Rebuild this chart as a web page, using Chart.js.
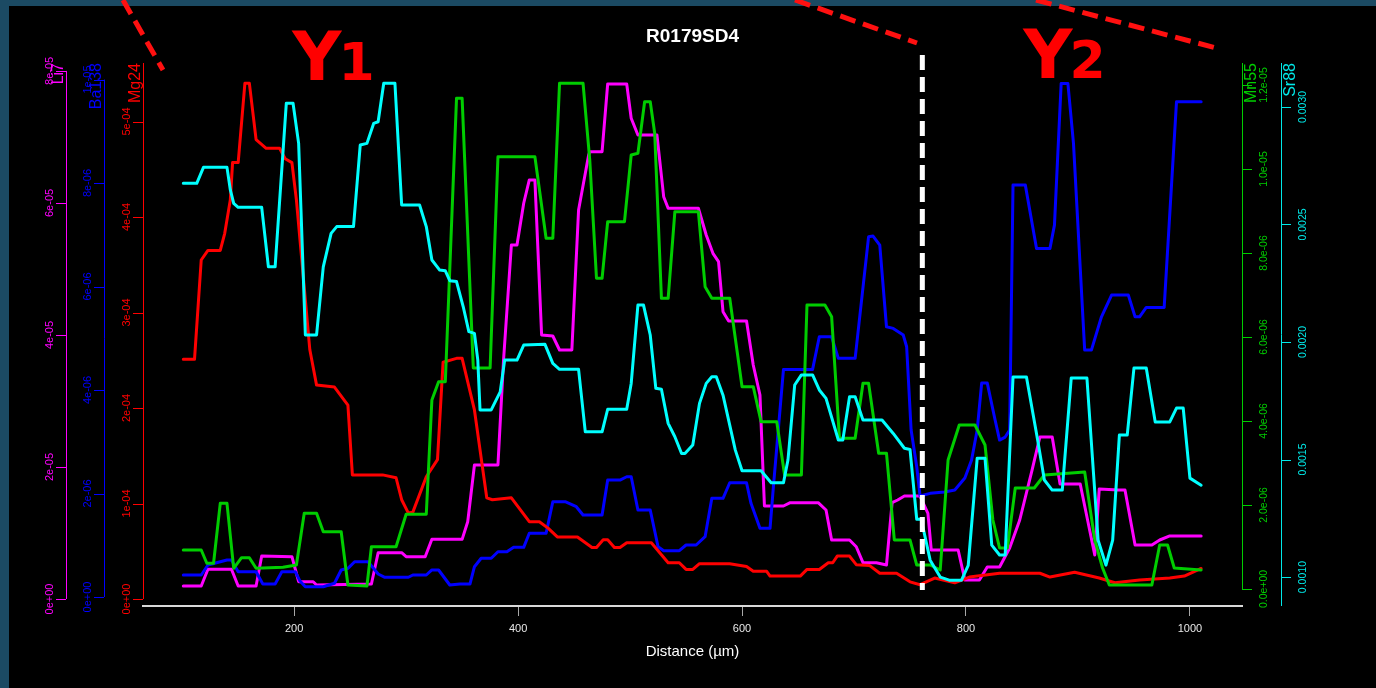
<!DOCTYPE html>
<html>
<head>
<meta charset="utf-8">
<title>R0179SD4</title>
<script src="https://cdn.jsdelivr.net/npm/chart.js@4"></script>
<style>
  html, body { margin: 0; padding: 0; background: #1b4a63; }
  canvas { display: block; }
</style>
</head>
<body>
<canvas id="chart" width="1376" height="688"></canvas>
<script>
// distance (µm) and concentration for each element
const mgX = [101, 111, 117, 123, 134, 138, 143, 145, 150, 156,
  160, 166, 175, 187, 192, 198, 202, 214, 220, 236,
  248, 252, 279, 291, 296, 302, 306, 318, 328, 333,
  345, 350, 361, 372, 377, 394, 410, 419, 427, 435,
  453, 466, 470, 476, 480, 486, 491, 497, 519, 534,
  544, 550, 556, 562, 589, 604, 610, 622, 625, 652,
  658, 669, 677, 681, 685, 696, 702, 714, 723, 738,
  750, 759, 772, 790, 803, 830, 866, 875, 897, 919,
  933, 955, 982, 995, 1010];
const mgY = [2.51e-4, 2.51e-4, 3.55e-4, 3.65e-4, 3.65e-4, 3.83e-4, 4.18e-4, 4.57e-4, 4.57e-4, 5.40e-4,
  5.40e-4, 4.81e-4, 4.72e-4, 4.72e-4, 4.61e-4, 4.57e-4, 4.18e-4, 2.61e-4, 2.24e-4, 2.22e-4,
  2.03e-4, 1.30e-4, 1.30e-4, 1.27e-4, 1.04e-4, 0.90e-4, 0.91e-4, 1.28e-4, 1.46e-4, 2.48e-4,
  2.52e-4, 2.52e-4, 1.98e-4, 1.06e-4, 1.04e-4, 1.06e-4, 0.81e-4, 0.81e-4, 0.74e-4, 0.65e-4,
  0.65e-4, 0.54e-4, 0.54e-4, 0.62e-4, 0.62e-4, 0.54e-4, 0.54e-4, 0.59e-4, 0.59e-4, 0.38e-4,
  0.38e-4, 0.31e-4, 0.31e-4, 0.37e-4, 0.37e-4, 0.34e-4, 0.29e-4, 0.29e-4, 0.24e-4, 0.24e-4,
  0.31e-4, 0.31e-4, 0.38e-4, 0.38e-4, 0.45e-4, 0.45e-4, 0.36e-4, 0.35e-4, 0.27e-4, 0.27e-4,
  0.18e-4, 0.15e-4, 0.22e-4, 0.17e-4, 0.23e-4, 0.27e-4, 0.27e-4, 0.23e-4, 0.28e-4, 0.22e-4,
  0.17e-4, 0.20e-4, 0.22e-4, 0.24e-4, 0.32e-4];

const srX = [101, 113, 119, 140, 143, 146, 150, 171, 177, 183,
  193, 199, 204, 210, 220, 226, 233, 238, 253, 259,
  265, 271, 275, 280, 290, 296, 312, 318, 323, 330,
  335, 339, 345, 351, 356, 361, 364, 366, 376, 384,
  388, 399, 405, 424, 431, 437, 454, 460, 475, 480,
  497, 501, 507, 512, 518, 523, 528, 534, 540, 546,
  549, 556, 562, 568, 573, 577, 583, 594, 600, 617,
  626, 637, 641, 647, 653, 663, 669, 675, 686, 690,
  696, 701, 708, 725, 735, 745, 750, 756, 760, 768,
  777, 785, 796, 802, 810, 817, 823, 830, 835, 842,
  854, 864, 870, 877, 886, 894, 908, 918, 925, 931,
  937, 944, 950, 961, 969, 982, 988, 994, 1000, 1010];
const srY = [0.002675, 0.002675, 0.002743, 0.002743, 0.002647, 0.002590, 0.002573, 0.002573, 0.002320, 0.002320,
  0.003016, 0.003016, 0.002845, 0.002030, 0.002030, 0.002320, 0.002462, 0.002491, 0.002491, 0.002838,
  0.002845, 0.002930, 0.002937, 0.003101, 0.003101, 0.002583, 0.002583, 0.002491, 0.002349, 0.002306,
  0.002303, 0.002261, 0.002257, 0.002150, 0.002044, 0.002037, 0.001923, 0.001711, 0.001711, 0.001788,
  0.001923, 0.001923, 0.001987, 0.001990, 0.001909, 0.001884, 0.001884, 0.001618, 0.001618, 0.001714,
  0.001714, 0.001824, 0.002157, 0.002157, 0.002030, 0.001803, 0.001799, 0.001654, 0.001597, 0.001526,
  0.001526, 0.001562, 0.001739, 0.001824, 0.001852, 0.001852, 0.001774, 0.001540, 0.001452, 0.001452,
  0.001401, 0.001401, 0.001498, 0.001817, 0.001860, 0.001860, 0.001796, 0.001760, 0.001583, 0.001583,
  0.001767, 0.001767, 0.001668, 0.001668, 0.001611, 0.001548, 0.001543, 0.001246, 0.001246, 0.001072,
  0.001000, 0.000987, 0.000987, 0.001050, 0.001506, 0.001506, 0.001136, 0.001094, 0.001094, 0.001851,
  0.001851, 0.001583, 0.001413, 0.001370, 0.001370, 0.001847, 0.001847, 0.001157, 0.001051, 0.001157,
  0.001604, 0.001604, 0.001889, 0.001889, 0.001660, 0.001660, 0.001719, 0.001719, 0.001421, 0.001391];

const baX = [101, 117, 123, 140, 144, 150, 166, 172, 183, 189,
  201, 205, 210, 226, 236, 242, 248, 254, 266, 275,
  281, 302, 306, 318, 323, 329, 339, 348, 357, 361,
  367, 376, 382, 390, 396, 405, 410, 425, 431, 442,
  452, 458, 475, 480, 491, 497, 501, 507, 518, 525,
  530, 544, 550, 559, 567, 573, 583, 589, 604, 608,
  616, 625, 628, 637, 663, 669, 680, 686, 701, 713,
  717, 723, 729, 735, 744, 747, 751, 756, 759, 768,
  781, 790, 799, 805, 810, 814, 819, 826, 830, 835,
  839, 842, 853, 863, 875, 879, 885, 891, 896, 906,
  912, 921, 930, 945, 951, 955, 961, 977, 988, 1010];
const baY = [4.25e-7, 4.25e-7, 6.18e-7, 7.15e-7, 7.15e-7, 4.89e-7, 4.89e-7, 2.51e-7, 2.51e-7, 4.89e-7,
  4.89e-7, 3.15e-7, 1.99e-7, 1.99e-7, 2.65e-7, 5.22e-7, 5.54e-7, 6.82e-7, 6.82e-7, 4.44e-7,
  3.81e-7, 3.81e-7, 4.25e-7, 4.25e-7, 5.22e-7, 5.22e-7, 2.32e-7, 2.51e-7, 2.51e-7, 5.85e-7,
  7.48e-7, 7.48e-7, 8.75e-7, 8.75e-7, 9.60e-7, 9.60e-7, 1.231e-6, 1.231e-6, 1.841e-6, 1.841e-6,
  1.745e-6, 1.584e-6, 1.584e-6, 2.260e-6, 2.260e-6, 2.324e-6, 2.324e-6, 1.681e-6, 1.681e-6, 9.72e-7,
  8.95e-7, 8.95e-7, 1.005e-6, 1.005e-6, 1.165e-6, 1.907e-6, 1.907e-6, 2.208e-6, 2.208e-6, 1.810e-6,
  1.327e-6, 1.327e-6, 2.131e-6, 4.399e-6, 4.399e-6, 5.029e-6, 5.029e-6, 4.612e-6, 4.612e-6, 6.961e-6,
  6.975e-6, 6.801e-6, 5.222e-6, 5.191e-6, 5.062e-6, 4.836e-6, 3.226e-6, 2.517e-6, 1.951e-6, 2.003e-6,
  2.029e-6, 2.067e-6, 2.299e-6, 2.647e-6, 3.226e-6, 4.134e-6, 4.134e-6, 3.420e-6, 3.033e-6, 3.091e-6,
  3.226e-6, 7.960e-6, 7.960e-6, 6.737e-6, 6.737e-6, 7.187e-6, 9.925e-6, 9.925e-6, 8.766e-6, 4.772e-6,
  4.772e-6, 5.415e-6, 5.835e-6, 5.835e-6, 5.415e-6, 5.415e-6, 5.597e-6, 5.597e-6, 9.569e-6, 9.569e-6];

const mnX = [101, 117, 122, 128, 134, 140, 146, 153, 160, 166,
  190, 202, 209, 220, 226, 242, 248, 265, 269, 291,
  300, 318, 323, 329, 335, 345, 350, 360, 375, 382,
  415, 425, 431, 437, 458, 464, 470, 475, 480, 495,
  501, 507, 513, 518, 522, 528, 534, 540, 561, 567,
  573, 589, 600, 610, 617, 631, 638, 653, 658, 674,
  680, 687, 701, 708, 713, 722, 729, 736, 750, 756,
  768, 777, 784, 794, 808, 817, 824, 830, 837, 844,
  861, 870, 906, 915, 922, 928, 966, 973, 980, 986,
  1010];
const mnY = [9.29e-7, 9.29e-7, 6.12e-7, 6.12e-7, 2.040e-6, 2.040e-6, 4.93e-7, 7.45e-7, 7.45e-7, 4.93e-7,
  5.17e-7, 5.71e-7, 1.802e-6, 1.802e-6, 1.364e-6, 1.364e-6, 9.5e-8, 7.1e-8, 1.007e-6, 1.007e-6,
  1.779e-6, 1.779e-6, 4.500e-6, 4.936e-6, 4.936e-6, 1.1683e-5, 1.1683e-5, 5.262e-6, 5.262e-6, 1.0293e-5,
  1.0293e-5, 8.350e-6, 8.350e-6, 1.2040e-5, 1.2040e-5, 1.0214e-5, 7.398e-6, 7.398e-6, 8.745e-6, 8.745e-6,
  1.0333e-5, 1.0374e-5, 1.1602e-5, 1.1602e-5, 1.0850e-5, 6.921e-6, 6.921e-6, 8.984e-6, 8.984e-6, 7.198e-6,
  6.921e-6, 6.921e-6, 4.817e-6, 4.817e-6, 3.983e-6, 3.983e-6, 2.714e-6, 2.714e-6, 6.762e-6, 6.762e-6,
  6.483e-6, 3.588e-6, 3.588e-6, 4.898e-6, 4.898e-6, 3.231e-6, 3.231e-6, 1.167e-6, 1.167e-6, 5.71e-7,
  5.71e-7, 4.52e-7, 3.071e-6, 3.905e-6, 3.905e-6, 3.429e-6, 1.643e-6, 9.76e-7, 9.76e-7, 2.405e-6,
  2.405e-6, 2.714e-6, 2.786e-6, 1.167e-6, 5.0e-7, 9.5e-8, 9.5e-8, 1.048e-6, 1.048e-6, 5.0e-7,
  4.52e-7];

const liX = [101, 117, 123, 144, 150, 166, 171, 198, 204, 217,
  220, 269, 275, 296, 300, 317, 323, 350, 355, 361,
  382, 387, 394, 399, 405, 410, 415, 421, 431, 437,
  448, 454, 463, 464, 475, 480, 497, 501, 507, 524,
  530, 534, 561, 568, 574, 579, 583, 588, 604, 610,
  616, 620, 637, 643, 668, 675, 680, 696, 702, 708,
  720, 729, 734, 739, 745, 759, 766, 769, 793, 799,
  812, 819, 830, 839, 848, 859, 866, 877, 884, 902,
  915, 919, 936, 942, 951, 966, 973, 982, 1010];
const liY = [1.97e-6, 1.97e-6, 4.50e-6, 4.50e-6, 1.97e-6, 1.97e-6, 6.52e-6, 6.41e-6, 2.62e-6, 2.62e-6,
  2.12e-6, 2.27e-6, 7.01e-6, 7.01e-6, 6.41e-6, 6.41e-6, 9.04e-6, 9.04e-6, 1.171e-5, 2.030e-5,
  2.030e-5, 3.621e-5, 5.363e-5, 5.363e-5, 5.995e-5, 6.348e-5, 6.348e-5, 4.000e-5, 3.984e-5, 3.772e-5,
  3.772e-5, 5.893e-5, 6.727e-5, 6.777e-5, 6.777e-5, 7.802e-5, 7.802e-5, 7.283e-5, 7.030e-5, 7.030e-5,
  6.095e-5, 5.919e-5, 5.919e-5, 5.515e-5, 5.237e-5, 5.110e-5, 4.353e-5, 4.212e-5, 4.212e-5, 3.545e-5,
  3.091e-5, 1.409e-5, 1.409e-5, 1.459e-5, 1.459e-5, 1.348e-5, 8.94e-6, 8.94e-6, 7.92e-6, 5.50e-6,
  5.50e-6, 5.15e-6, 1.459e-5, 1.500e-5, 1.560e-5, 1.560e-5, 1.298e-5, 7.42e-6, 7.42e-6, 2.88e-6,
  2.88e-6, 4.85e-6, 4.85e-6, 7.73e-6, 1.197e-5, 1.954e-5, 2.454e-5, 2.454e-5, 1.742e-5, 1.742e-5,
  6.67e-6, 1.667e-5, 1.651e-5, 1.651e-5, 8.18e-6, 8.18e-6, 8.94e-6, 9.55e-6, 9.55e-6];

// tick labels
const distanceTicks = [200, 400, 600, 800, 1000];
const liTicks = [0, 2e-5, 4e-5, 6e-5, 8e-5];
const baTicks = [0, 2e-6, 4e-6, 6e-6, 8e-6, 1e-5];
const mgTicks = [0, 1e-4, 2e-4, 3e-4, 4e-4, 5e-4];
const mnTicks = [0, 2e-6, 4e-6, 6e-6, 8e-6, 1e-5, 1.2e-5];
const srTicks = [0.001, 0.0015, 0.002, 0.0025, 0.003];

const sampleTitle = "R0179SD4";
const boundaryX = 761;

const FONT = "'Liberation Sans', Arial, sans-serif";

// R style exponent labels: 2e-05, 1.0e-05
const rExp = (v, d) => {
  const [m, e] = v.toExponential(d).split("e");
  const n = parseInt(e, 10);
  return m + "e" + (n < 0 ? "-" : "+") + String(Math.abs(n)).padStart(2, "0");
};

const toPoints = (xs, ys) => xs.map((x, i) => ({ x, y: ys[i] }));

const axisSpecs = [
  { id: "yLi", side: "left", shift: -77, ticks: liTicks, fmt: (v) => rExp(v, 0), title: "Li7", color: "#ff00ff", toTop: false, toBottom: false },
  { id: "yBa", side: "left", shift: -39, ticks: baTicks, fmt: (v) => rExp(v, 0), title: "Ba138", color: "#0000ff", toTop: false, toBottom: false },
  { id: "yMg", side: "left", shift: 0, ticks: mgTicks, fmt: (v) => rExp(v, 0), title: "Mg24", color: "#ff0000", toTop: true, toBottom: false },
  { id: "yMn", side: "right", shift: 0, ticks: mnTicks, fmt: (v) => rExp(v, 1), title: "Mn55", color: "#00cd00", toTop: true, toBottom: false },
  { id: "ySr", side: "right", shift: 39, ticks: srTicks, fmt: (v) => v.toFixed(4), title: "Sr88", color: "#00e8e8", toTop: true, toBottom: true },
];

const rotText = (ctx, text, x, y, align) => {
  ctx.save();
  ctx.translate(x, y);
  ctx.rotate(-Math.PI / 2);
  ctx.textAlign = align;
  ctx.textBaseline = "middle";
  ctx.fillText(text, 0, 0);
  ctx.restore();
};

const framePlugin = {
  id: "frame",
  beforeDraw(chart) {
    const { ctx, width, height } = chart;
    ctx.save();
    ctx.fillStyle = "#1b4a63";
    ctx.fillRect(0, 0, width, height);
    ctx.fillStyle = "#000000";
    ctx.fillRect(9, 6, width - 9, height - 6);
    ctx.restore();
  },
};

const yAxesPlugin = {
  id: "yAxes",
  afterDraw(chart) {
    const { ctx, chartArea } = chart;
    axisSpecs.forEach((a) => {
      const s = chart.scales[a.id];
      const left = a.side === "left";
      const ax = (left ? chartArea.left : chartArea.right) + a.shift;
      const dir = left ? -1 : 1;
      const first = s.getPixelForValue(a.ticks[0]);
      const last = s.getPixelForValue(a.ticks[a.ticks.length - 1]);
      const y0 = a.toBottom ? chartArea.bottom : first;
      const y1 = a.toTop ? chartArea.top : last;
      ctx.save();
      ctx.strokeStyle = a.color;
      ctx.fillStyle = a.color;
      ctx.lineWidth = 1;
      ctx.beginPath();
      ctx.moveTo(ax + 0.5, y0);
      ctx.lineTo(ax + 0.5, y1);
      a.ticks.forEach((v) => {
        const py = Math.round(s.getPixelForValue(v)) + 0.5;
        ctx.moveTo(ax, py);
        ctx.lineTo(ax + dir * 10, py);
      });
      ctx.stroke();
      ctx.font = (left ? "11px " : "10.5px ") + FONT;
      a.ticks.forEach((v) => {
        rotText(ctx, a.fmt(v), ax + (left ? -16 : 22), s.getPixelForValue(v), "center");
      });
      ctx.font = "16px " + FONT;
      rotText(ctx, a.title, ax + (left ? -7 : 10), chartArea.top, "right");
      ctx.restore();
    });
  },
};

const notesPlugin = {
  id: "notes",
  afterDatasetsDraw(chart) {
    const { ctx, chartArea } = chart;
    const xs = chart.scales.x;
    ctx.save();
    // boundary between the two zones
    const bx = xs.getPixelForValue(boundaryX);
    ctx.strokeStyle = "#ffffff";
    ctx.lineWidth = 5;
    ctx.setLineDash([15, 7]);
    ctx.beginPath();
    ctx.moveTo(bx, chartArea.top - 8);
    ctx.lineTo(bx, chartArea.bottom - 16);
    ctx.stroke();

    // red callout lines
    ctx.strokeStyle = "#ff1010";
    ctx.lineWidth = 5;
    ctx.setLineDash([16, 8]);
    [[[123, 0], [163, 70]], [[795, 0], [917, 43]], [[1036, 0], [1216, 48]]].forEach(([p, q]) => {
      ctx.beginPath();
      ctx.moveTo(p[0], p[1]);
      ctx.lineTo(q[0], q[1]);
      ctx.stroke();
    });
    ctx.setLineDash([]);

    // zone labels
    ctx.fillStyle = "#ff0000";
    ctx.textBaseline = "alphabetic";
    ctx.textAlign = "left";
    [["1", 200, 80], ["2", 853, 78]].forEach(([n, v, base]) => {
      const x = xs.getPixelForValue(v) - 2;
      ctx.font = "bold 68px 'DejaVu Sans', " + FONT;
      ctx.fillText("Y", x, base);
      const w = ctx.measureText("Y").width;
      ctx.font = "bold 52px 'DejaVu Sans', " + FONT;
      ctx.fillText(n, x + w - 3, base);
    });

    // title
    ctx.fillStyle = "#ffffff";
    ctx.font = "bold 19px " + FONT;
    ctx.textAlign = "center";
    ctx.textBaseline = "middle";
    ctx.fillText(sampleTitle, (chartArea.left + chartArea.right) / 2, 37);
    ctx.restore();
  },
};

const lineStyle = (color) => ({
  borderColor: color,
  backgroundColor: color,
  borderWidth: 3,
  pointRadius: 0,
  tension: 0,
  fill: false,
  borderJoinStyle: "round",
  borderCapStyle: "round",
});

const hiddenY = (min, max) => ({ type: "linear", display: false, min, max });

new Chart(document.getElementById("chart"), {
  type: "line",
  data: {
    datasets: [
      { label: "Sr88", data: toPoints(srX, srY), yAxisID: "ySr", ...lineStyle("#00ffff") },
      { label: "Mn55", data: toPoints(mnX, mnY), yAxisID: "yMn", ...lineStyle("#00cd00") },
      { label: "Mg24", data: toPoints(mgX, mgY), yAxisID: "yMg", ...lineStyle("#ff0000") },
      { label: "Ba138", data: toPoints(baX, baY), yAxisID: "yBa", ...lineStyle("#0000ff") },
      { label: "Li7", data: toPoints(liX, liY), yAxisID: "yLi", ...lineStyle("#ff00ff") },
    ],
  },
  options: {
    responsive: false,
    animation: false,
    devicePixelRatio: 1,
    layout: { padding: { left: 143, right: 134, top: 63, bottom: 0 } },
    plugins: { legend: { display: false }, tooltip: { enabled: false }, title: { display: false } },
    scales: {
      x: {
        type: "linear",
        min: 65,
        max: 1046.5,
        afterBuildTicks: (s) => { s.ticks = distanceTicks.map((v) => ({ value: v })); },
        afterFit: (s) => { s.height = 82; },
        grid: { display: true, drawOnChartArea: false, drawTicks: true, tickLength: 10, color: "#a8a8a8", lineWidth: 1 },
        border: { display: true, color: "#d8d8d8", width: 2 },
        ticks: { color: "#e8e8e8", font: { family: FONT, size: 11 }, padding: 6, maxRotation: 0, autoSkip: false, callback: (v) => String(v) },
        title: { display: true, text: "Distance (µm)", color: "#ffffff", font: { family: FONT, size: 15 }, padding: { top: 0, bottom: 27 } },
      },
      yLi: hiddenY(-1.06e-6, 8.12e-5),
      yBa: hiddenY(-1.74e-7, 1.032e-5),
      yMg: hiddenY(-7.3e-6, 5.613e-4),
      yMn: hiddenY(-4.05e-7, 1.2524e-5),
      ySr: hiddenY(0.000877, 0.003187),
    },
  },
  plugins: [framePlugin, yAxesPlugin, notesPlugin],
});
</script>
</body>
</html>
